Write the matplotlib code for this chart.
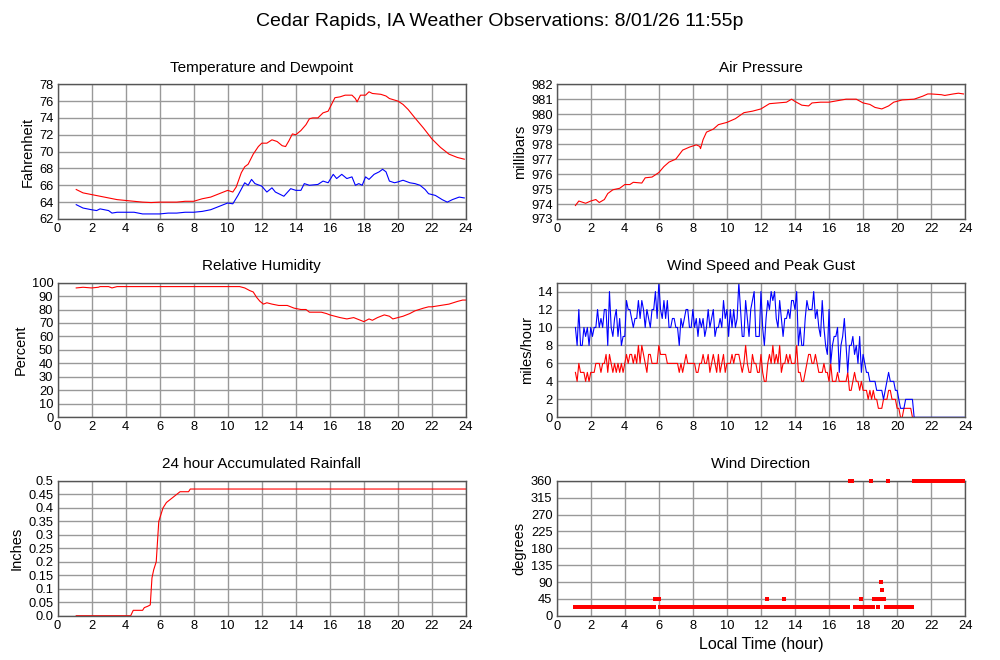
import matplotlib
matplotlib.use('Agg')
import matplotlib.pyplot as plt
import numpy as np

plt.rcParams['font.family'] = ['Liberation Sans', 'DejaVu Sans']

# --- temperature / dewpoint (F) ---
temp_hours = [1.1, 1.5, 2.0, 2.5, 3.0, 3.5, 4.0, 4.5, 5.0, 5.5, 6.0, 6.5, 7.0, 7.5, 8.0,
              8.5, 9.0, 9.5, 10.0, 10.3, 10.5, 10.8, 11.0, 11.2, 11.5, 11.8, 12.0, 12.3,
              12.6, 12.9, 13.2, 13.4, 13.6, 13.8, 14.0, 14.3, 14.6, 14.8, 15.0, 15.3,
              15.6, 15.9, 16.1, 16.3, 16.6, 16.9, 17.3, 17.5, 17.6, 17.8, 18.1, 18.3,
              18.5, 19.0, 19.3, 19.5, 20.0, 20.3, 20.6, 21.0, 21.5, 22.0, 22.5, 23.0,
              23.5, 23.9]
temp_vals = [65.5, 65.1, 64.9, 64.7, 64.5, 64.3, 64.2, 64.1, 64.0, 63.95, 64.0, 64.0, 64.0,
             64.1, 64.1, 64.4, 64.6, 65.0, 65.4, 65.2, 65.8, 67.5, 68.2, 68.5, 69.7, 70.6,
             71.0, 71.0, 71.4, 71.2, 70.7, 70.6, 71.3, 72.1, 72.0, 72.5, 73.2, 73.9, 74.0,
             74.0, 74.6, 74.8, 75.6, 76.4, 76.5, 76.7, 76.7, 76.3, 75.9, 76.7, 76.7, 77.1,
             76.9, 76.8, 76.6, 76.3, 76.0, 75.6, 75.0, 74.0, 72.8, 71.5, 70.5, 69.7, 69.3,
             69.1]
dew_hours = [1.1, 1.5, 2.0, 2.3, 2.5, 3.0, 3.2, 3.5, 4.0, 4.5, 5.0, 5.5, 6.0, 6.5, 7.0,
             7.5, 8.0, 8.5, 9.0, 9.5, 10.0, 10.3, 10.6, 11.0, 11.2, 11.4, 11.6, 12.0,
             12.3, 12.6, 12.8, 13.3, 13.7, 14.0, 14.3, 14.5, 14.8, 15.3, 15.6, 15.9,
             16.2, 16.4, 16.7, 17.0, 17.3, 17.5, 17.7, 17.9, 18.1, 18.3, 18.6, 18.9,
             19.1, 19.3, 19.5, 19.8, 20.0, 20.3, 20.7, 21.0, 21.3, 21.6, 21.8, 22.2,
             22.6, 22.9, 23.2, 23.6, 23.9]
dew_vals = [63.7, 63.3, 63.1, 63.0, 63.2, 63.0, 62.7, 62.8, 62.8, 62.8, 62.6, 62.6, 62.6,
            62.7, 62.7, 62.8, 62.8, 62.9, 63.1, 63.5, 63.9, 63.8, 64.8, 66.3, 66.0, 66.7,
            66.2, 65.9, 65.2, 65.7, 65.2, 64.7, 65.6, 65.4, 65.4, 66.2, 66.0, 66.1, 66.5,
            66.3, 67.3, 66.8, 67.3, 66.8, 67.0, 66.0, 66.2, 66.0, 67.0, 66.7, 67.3, 67.6,
            67.9, 67.6, 66.5, 66.3, 66.4, 66.6, 66.3, 66.2, 66.0, 65.5, 65.0, 64.8, 64.3,
            64.0, 64.3, 64.6, 64.5]

# --- air pressure (mb) ---
pres_hours = [1.1, 1.3, 1.7, 2.0, 2.3, 2.5, 2.8, 3.0, 3.3, 3.7, 4.0, 4.3, 4.5, 5.0, 5.2,
              5.6, 6.0, 6.3, 6.6, 7.0, 7.4, 7.8, 8.2, 8.4, 8.45, 8.6, 8.8, 9.2, 9.5, 10.0,
              10.5, 11.0, 11.5, 12.0, 12.5, 13.0, 13.5, 13.8, 14.0, 14.4, 14.8, 15.0,
              15.5, 16.0, 16.5, 17.0, 17.6, 18.0, 18.4, 18.7, 19.1, 19.5, 19.8, 20.3,
              21.0, 21.5, 21.8, 22.0, 22.6, 22.8, 23.3, 23.6, 23.9]
pres_vals = [973.9, 974.2, 974.05, 974.2, 974.3, 974.1, 974.3, 974.7, 974.95, 975.05,
             975.3, 975.3, 975.45, 975.4, 975.75, 975.8, 976.1, 976.5, 976.8, 977.0,
             977.6, 977.8, 977.95, 977.85, 977.7, 978.3, 978.8, 979.0, 979.3, 979.45,
             979.7, 980.1, 980.2, 980.35, 980.7, 980.75, 980.8, 981.0, 980.85, 980.6,
             980.55, 980.75, 980.8, 980.8, 980.9, 981.0, 981.0, 980.75, 980.65, 980.45,
             980.35, 980.55, 980.8, 980.95, 981.0, 981.2, 981.35, 981.35, 981.3, 981.25,
             981.35, 981.4, 981.35]

# --- relative humidity (%) ---
rh_hours = [1.1, 1.5, 2.0, 2.4, 2.5, 3.0, 3.2, 3.5, 10.7, 11.0, 11.3, 11.5, 11.7, 11.9,
            12.1, 12.3, 12.6, 13.0, 13.5, 13.9, 14.3, 14.6, 14.8, 15.5, 15.8, 16.0, 16.3,
            16.6, 17.0, 17.4, 17.8, 18.0, 18.3, 18.5, 18.8, 19.2, 19.5, 19.7, 20.0, 20.3,
            20.7, 21.0, 21.5, 21.8, 22.0, 22.5, 23.0, 23.5, 23.8, 24.0]
rh_vals = [96, 96.5, 96, 96.5, 97, 97, 96, 97, 97, 96, 94, 93, 89, 86, 84, 85, 84, 83, 83,
           81, 80, 80, 78, 78, 77, 76, 75, 74, 73, 74, 72, 71, 73, 72, 74, 76, 75, 73, 74,
           75, 77, 79, 81, 82, 82, 83, 84, 86, 87, 87]

# --- accumulated rainfall (in) ---
rain_hours = [1.1, 4.3, 4.45, 5.0, 5.1, 5.3, 5.45, 5.55, 5.65, 5.8, 5.9, 5.95, 6.1, 6.2,
              6.4, 6.6, 6.8, 7.0, 7.2, 7.7, 7.8, 24.0]
rain_vals = [0.0, 0.0, 0.02, 0.02, 0.03, 0.035, 0.04, 0.14, 0.17, 0.2, 0.3, 0.35, 0.38,
             0.40, 0.42, 0.43, 0.44, 0.45, 0.46, 0.46, 0.47, 0.47]

# --- wind speed / gust (mph), 6-minute samples from 1.1 to 21.0 ---
wind_start, wind_step = 1.1, 0.1
gust_vals = [10, 8, 12, 8, 8, 10, 9, 10, 8, 10,
             9, 10, 10, 12, 10, 11, 10, 12, 12, 8,
             14, 10, 9, 11, 12, 9, 11, 8, 9, 9,
             13, 12, 12, 11, 10, 11, 11, 13, 11, 13,
             12, 10, 12, 11, 10, 12, 12, 14, 11, 15,
             12, 11, 13, 11, 13, 10, 10, 11, 11, 10,
             10, 8, 11, 10, 11, 12, 12, 10, 10, 12,
             10, 11, 9, 11, 10, 11, 9, 10, 12, 10,
             11, 12, 9, 10, 10, 11, 10, 13, 11, 12,
             9, 12, 10, 12, 10, 11, 15, 12, 9, 9,
             13, 11, 9, 12, 13, 14, 9, 9, 9, 14,
             10, 8, 11, 13, 12, 14, 13, 14, 11, 10,
             13, 11, 9, 11, 11, 12, 11, 13, 13, 12,
             14, 8, 10, 8, 8, 11, 13, 12, 12, 12,
             14, 11, 12, 10, 9, 13, 10, 8, 7, 12,
             6, 8, 9, 9, 10, 5, 8, 9, 11, 8,
             5, 8, 8, 9, 7, 8, 6, 9, 5, 7,
             6, 5, 5, 4, 4, 4, 4, 3, 3, 3,
             3, 2, 3, 4, 5, 4, 4, 4, 3, 3,
             2, 1, 1, 1, 2, 2, 2, 2, 2, 0]
speed_vals = [5, 4, 6, 5, 5, 5, 4, 5, 4, 5,
              5, 5, 6, 6, 6, 5, 6, 6, 7, 5,
              7, 6, 5, 6, 5, 6, 5, 6, 5, 6,
              7, 6, 7, 7, 6, 7, 6, 8, 6, 8,
              7, 6, 5, 7, 7, 6, 6, 6, 6, 8,
              7, 7, 7, 7, 6, 6, 6, 6, 6, 6,
              6, 5, 6, 5, 6, 7, 6, 6, 6, 6,
              6, 5, 5, 6, 6, 7, 6, 6, 7, 5,
              6, 7, 6, 5, 7, 5, 6, 7, 5, 6,
              6, 6, 7, 6, 7, 7, 7, 6, 5, 6,
              8, 6, 5, 5, 7, 6, 6, 5, 5, 7,
              5, 4, 4, 6, 7, 6, 8, 6, 7, 6,
              8, 5, 6, 6, 7, 6, 7, 6, 6, 6,
              8, 5, 5, 4, 4, 5, 6, 7, 7, 6,
              6, 7, 6, 5, 5, 5, 6, 5, 5, 4,
              6, 4, 4, 4, 5, 4, 4, 4, 4, 4,
              5, 3, 3, 4, 5, 4, 4, 3, 4, 3,
              3, 3, 2, 3, 2, 3, 2, 2, 1, 1,
              1, 2, 2, 2, 3, 3, 2, 2, 2, 1,
              1, 0, 0, 1, 1, 1, 1, 1, 0, 0]
wind_end_hour = 23.95

# --- wind direction (deg): runs of 5-minute reports (start, end, value) ---
dir_runs = [(1.05, 5.75, 22.5), (5.78, 6.03, 45), (6.08, 12.33, 22.5), (12.38, 12.38, 45),
            (12.45, 13.33, 22.5), (13.38, 13.38, 45), (13.45, 17.15, 22.5),
            (17.24, 17.4, 360), (17.5, 17.82, 22.5), (17.89, 17.89, 45),
            (17.97, 18.4, 22.5), (18.48, 18.48, 360), (18.56, 18.6, 22.5),
            (18.67, 18.81, 45), (18.86, 18.9, 22.5), (18.97, 18.97, 45),
            (19.04, 19.04, 90), (19.14, 19.14, 67.5), (19.24, 19.24, 45),
            (19.32, 19.38, 22.5), (19.46, 19.46, 360), (19.55, 20.96, 22.5),
            (20.98, 23.95, 360)]

RED = '#ff0000'
BLUE = '#0000ff'
LW = 0.8

fig = plt.figure(figsize=(10, 6.6), dpi=100)
fig.suptitle('Cedar Rapids, IA Weather Observations: 8/01/26 11:55p', fontsize=14, y=0.98)

cols = [0.0575, 0.5567]
rows = [0.6682, 0.3677, 0.0671]
w, h = 0.4085, 0.2042


def style(ax, title, ylabel, ylim, yticks, yticklabels=None):
    ax.set_xlim(0, 24)
    ax.set_xticks(range(0, 25, 2))
    ax.set_ylim(*ylim)
    ax.set_yticks(yticks)
    if yticklabels is not None:
        ax.set_yticklabels(yticklabels)
    ax.grid(True, color='#999999', lw=1)
    ax.tick_params(length=0, labelsize=9.3, pad=3)
    for s in ax.spines.values():
        s.set_color('#555555')
        s.set_linewidth(1)
    ax.set_title(title, fontsize=11, pad=9)
    ax.set_ylabel(ylabel, fontsize=10.5, labelpad=3)


# temperature & dewpoint
ax = fig.add_axes([cols[0], rows[0], w, h])
ax.plot(temp_hours, temp_vals, color=RED, lw=LW)
ax.plot(dew_hours, dew_vals, color=BLUE, lw=LW)
style(ax, 'Temperature and Dewpoint', 'Fahrenheit', (62, 78), range(62, 79, 2))

# pressure
ax = fig.add_axes([cols[1], rows[0], w, h])
ax.plot(pres_hours, pres_vals, color=RED, lw=LW)
style(ax, 'Air Pressure', 'millibars', (973, 982), range(973, 983))

# humidity
ax = fig.add_axes([cols[0], rows[1], w, h])
ax.plot(rh_hours, rh_vals, color=RED, lw=LW)
style(ax, 'Relative Humidity', 'Percent', (0, 100), range(0, 101, 10))

# wind speed & gust
wind_hours = list(np.round(wind_start + wind_step * np.arange(len(gust_vals)), 2))
ax = fig.add_axes([cols[1], rows[1], w, h])
ax.plot(wind_hours, speed_vals, color=RED, lw=LW)
ax.plot(wind_hours + [wind_end_hour], gust_vals + [0], color=BLUE, lw=LW)
style(ax, 'Wind Speed and Peak Gust', 'miles/hour', (0, 15), range(0, 15, 2))

# rainfall
rain_ticks = [0, 0.05, 0.1, 0.15, 0.2, 0.25, 0.3, 0.35, 0.4, 0.45, 0.5]
rain_labels = ['0.0', '0.05', '0.1', '0.15', '0.2', '0.25', '0.3', '0.35', '0.4', '0.45', '0.5']
ax = fig.add_axes([cols[0], rows[2], w, h])
ax.plot(rain_hours, rain_vals, color=RED, lw=LW)
style(ax, '24 hour Accumulated Rainfall', 'Inches', (0, 0.5), rain_ticks, rain_labels)

# wind direction
dir_hours, dir_vals = [], []
for start, end, val in dir_runs:
    t = start
    while t <= end + 1e-6:
        dir_hours.append(t)
        dir_vals.append(val)
        t += 1 / 12
ax = fig.add_axes([cols[1], rows[2], w, h])
ax.scatter(dir_hours, dir_vals, s=7, marker='s', color=RED, linewidths=0, clip_on=False, zorder=3)
style(ax, 'Wind Direction', 'degrees', (0, 360), range(0, 361, 45))
ax.set_xlabel('Local Time (hour)', fontsize=11.5, labelpad=4)

fig.savefig('out.png', dpi=100)
